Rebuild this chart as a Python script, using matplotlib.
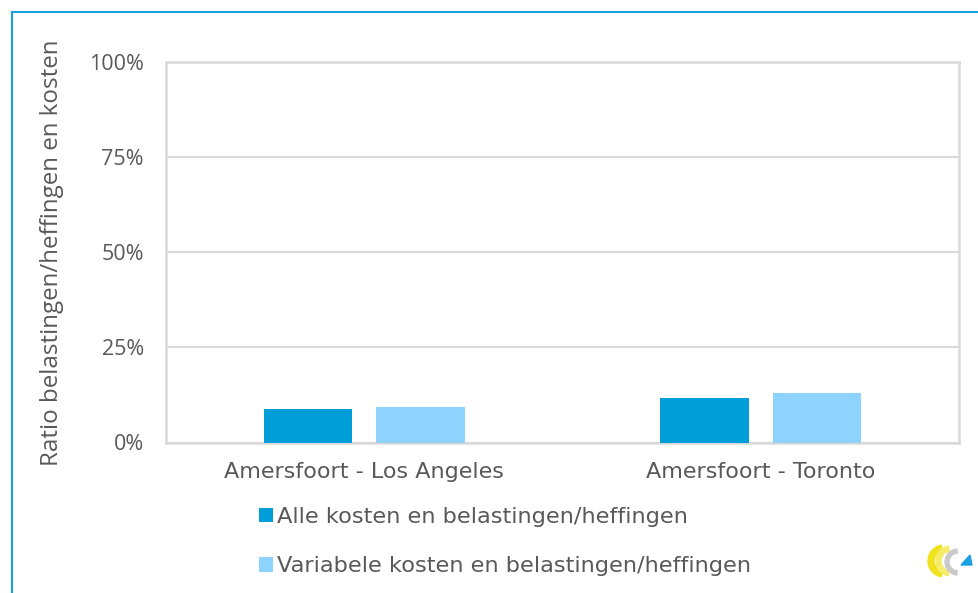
import numpy as np
import matplotlib.pyplot as plt
from matplotlib.patches import Polygon, Wedge
from matplotlib.lines import Line2D

# data
categories = ['Amersfoort - Los Angeles', 'Amersfoort - Toronto']
alle_kosten = [8.9, 11.7]        # %
variabele_kosten = [9.3, 13.1]   # %
series_labels = ['Alle kosten en belastingen/heffingen',
                 'Variabele kosten en belastingen/heffingen']
yticks = [0, 25, 50, 75, 100]
ytick_labels = ['0%', '25%', '50%', '75%', '100%']

TXT = '#595959'
GRID = '#d9d9d9'
C_DARK = '#009ed8'
C_LIGHT = '#8ed2fe'

plt.rcParams['font.family'] = ['DejaVu Sans']

W, H = 979, 593
fig = plt.figure(figsize=(W / 100, H / 100), dpi=100)
ax = fig.add_axes([166 / W, (H - 442.5) / H, (959 - 166) / W, (442.5 - 62) / H])

x = np.arange(len(categories))
bw = 0.224
off = 0.142
b1 = ax.bar(x - off, alle_kosten, bw, color=C_DARK, label=series_labels[0], zorder=3)
b2 = ax.bar(x + off, variabele_kosten, bw, color=C_LIGHT, label=series_labels[1], zorder=3)

ax.set_xlim(-0.5, 1.5)
ax.set_ylim(0, 100)
ax.set_yticks(yticks)
ax.set_yticklabels(ytick_labels, family='Open Sans', fontsize=15.5)
ax.set_xticks(x)
ax.set_xticklabels(categories, fontsize=16)
ax.tick_params(length=0, colors=TXT)
ax.tick_params(axis='y', pad=16)
ax.tick_params(axis='x', pad=14)
ax.yaxis.grid(True, color=GRID, linewidth=1.5, zorder=0)
ax.set_axisbelow(True)
for s in ax.spines.values():
    s.set_color(GRID)
    s.set_linewidth(1.8)

ax.set_ylabel('Ratio belastingen/heffingen en kosten', fontsize=17.4,
              color=TXT, family='Open Sans')
ax.yaxis.set_label_coords(-0.128, 0.5)

ax.legend(handles=[b1, b2], loc='upper left', frameon=False,
          bbox_to_anchor=(259 / W, (H - 507) / H), bbox_transform=fig.transFigure,
          fontsize=16.2, labelcolor=TXT, handlelength=0.63, handleheight=0.63,
          handletextpad=0.18, labelspacing=1.31, borderpad=0, borderaxespad=0)

# blue outer frame (left and top edges visible)
px = fig.transFigure
fig.add_artist(Line2D([12 / W, 12 / W], [0, (H - 12) / H], color='#1ba1e2', lw=1.5, transform=px))
fig.add_artist(Line2D([12 / W, 1], [(H - 12) / H, (H - 12) / H], color='#1ba1e2', lw=1.5, transform=px))

# small logo bottom right, drawn in a pixel-unit inset
lax = fig.add_axes([922 / W, (H - 581) / H, 52 / W, 38 / H])
lax.set_xlim(922, 974)
lax.set_ylim(581, 543)
lax.axis('off')
lax.add_patch(Wedge((944, 561), 16, 100, 260, width=6, color='#f0e21c'))
lax.add_patch(Wedge((951, 561), 15, 100, 260, width=5, color='#f5ec6a'))
lax.add_patch(Wedge((958, 562), 13, 95, 265, width=4, color='#c9c9c9'))
lax.add_patch(Polygon([(961, 565), (972, 565), (970, 555)], closed=True, color='#1ba1e2'))

fig.savefig('out.png', dpi=100)
